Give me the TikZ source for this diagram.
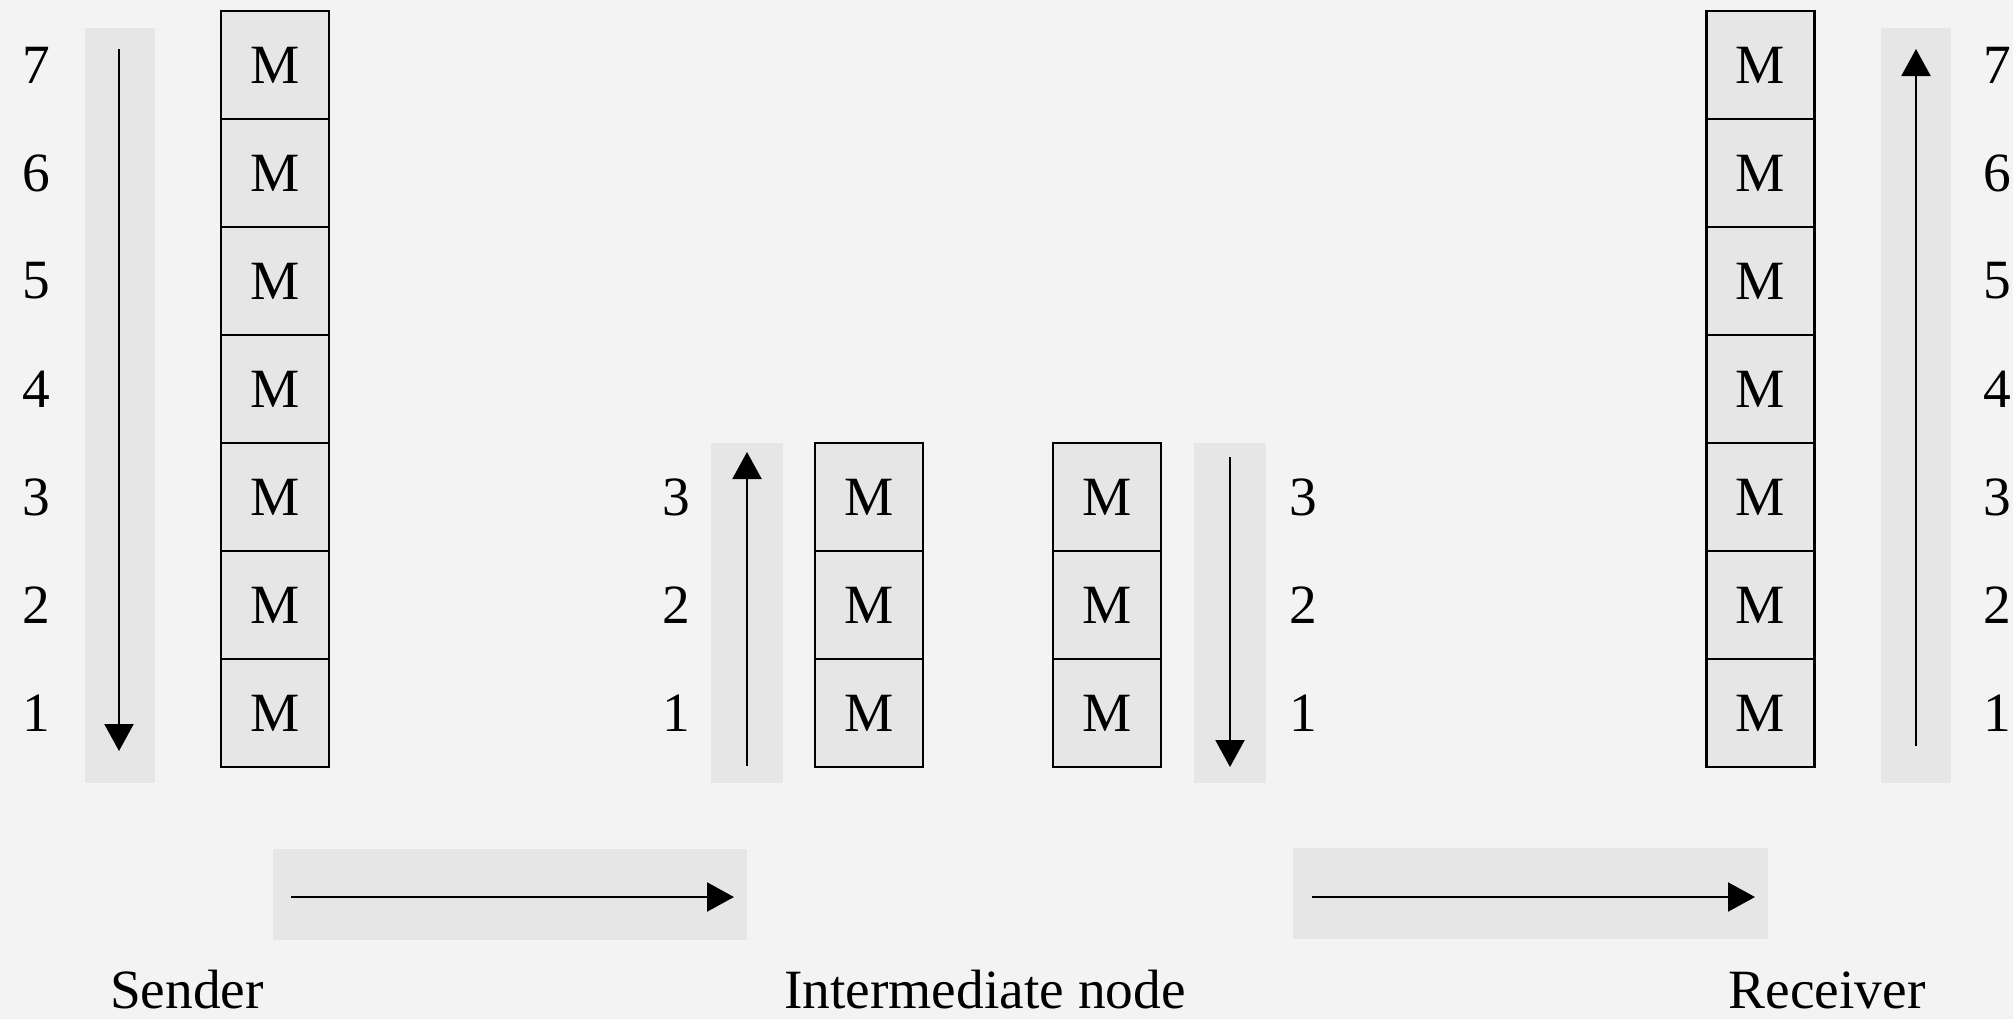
\documentclass[tikz,border=0pt]{standalone}
\usepackage{fontspec}
\setmainfont{Liberation Serif}
\usetikzlibrary{arrows.meta}
\definecolor{bgcol}{HTML}{F3F3F3}
\definecolor{bandcol}{HTML}{E6E6E6}
\begin{document}
\begin{tikzpicture}[x=0.5pt,y=-0.5pt,
  cell/.style={draw=black, line width=1.25pt, fill=bandcol, minimum width=54pt, minimum height=54pt, inner sep=0pt, font=\fontsize{27.7}{34}\selectfont},
  num/.style={inner sep=0pt, font=\fontsize{27.7}{34}\selectfont},
  bandfill/.style={fill=bandcol, draw=none},
  flow/.style={line width=1.1pt, -{Triangle[length=13.5pt,width=14.5pt]}},
  caption/.style={anchor=base, inner sep=0pt, font=\fontsize{27.7}{34}\selectfont}]
\fill[bgcol] (0,0) rectangle (2013,1019);
\useasboundingbox (0,0) rectangle (2013,1019);
% grey bands
\path[bandfill] (85,28) rectangle (155,783);
\path[bandfill] (711,443) rectangle (783,783);
\path[bandfill] (1194,443) rectangle (1266,783);
\path[bandfill] (1881,28) rectangle (1951,783);
\path[bandfill] (273,849) rectangle (747,940);
\path[bandfill] (1293,848) rectangle (1768,939);
% sender
\foreach \k in {1,...,7} {
  \node[cell] (s\k) at (275,{713-108*(\k-1)}) {M};
  \node[num] (sn\k) at (36,{713-108*(\k-1)}) {\k};
}
\coordinate (sa0) at (119,49);
\coordinate (sa1) at (119,751);
\draw[flow] (sa0) -- (sa1);
% intermediate left
\foreach \k in {1,2,3} {
  \node[cell] (il\k) at (869,{713-108*(\k-1)}) {M};
  \node[num] (iln\k) at (676,{713-108*(\k-1)}) {\k};
}
\coordinate (ila0) at (747,766);
\coordinate (ila1) at (747,452);
\draw[flow] (ila0) -- (ila1);
% intermediate right
\foreach \k in {1,2,3} {
  \node[cell] (ir\k) at (1107,{713-108*(\k-1)}) {M};
  \node[num] (irn\k) at (1303,{713-108*(\k-1)}) {\k};
}
\coordinate (ira0) at (1230,457);
\coordinate (ira1) at (1230,767);
\draw[flow] (ira0) -- (ira1);
% receiver
\foreach \k in {1,...,7} {
  \node[cell] (r\k) at (1760.5,{713-108*(\k-1)}) {M};
  \node[num] (rn\k) at (1997,{713-108*(\k-1)}) {\k};
}
\coordinate (ra0) at (1916,746);
\coordinate (ra1) at (1916,49);
\draw[flow] (ra0) -- (ra1);
% horizontal transfers
\coordinate (h1a) at (291,897);
\coordinate (h1b) at (734,897);
\draw[flow] (h1a) -- (h1b);
\coordinate (h2a) at (1312,897);
\coordinate (h2b) at (1755,897);
\draw[flow] (h2a) -- (h2b);
% captions
\node[caption] (sender) at (187,1008) {Sender};
\node[caption] (inter) at (985,1008) {Intermediate node};
\node[caption] (receiver) at (1827,1008) {Receiver};
\end{tikzpicture}
\end{document}
